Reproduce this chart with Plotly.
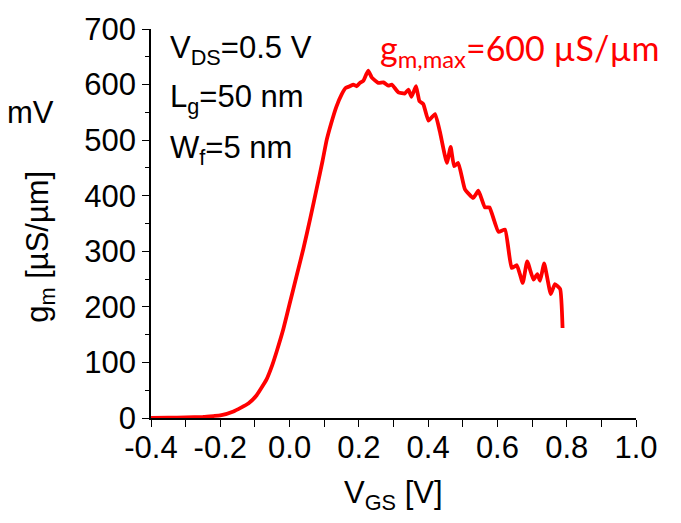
import plotly.graph_objects as go

# Transconductance g_m versus gate voltage V_GS
vgs = [-0.40, -0.35, -0.30, -0.25, -0.22, -0.200, -0.162, -0.119, -0.095, -0.066,
       -0.050, -0.037, -0.018, 0.000, 0.020, 0.040, 0.060, 0.080, 0.095, 0.107,
       0.120, 0.135, 0.150, 0.162, 0.174, 0.184, 0.194, 0.203, 0.213, 0.227,
       0.237, 0.256, 0.271, 0.285, 0.295, 0.314, 0.333, 0.343, 0.352, 0.365,
       0.375, 0.386, 0.401, 0.420, 0.434, 0.454, 0.465, 0.475, 0.487, 0.506,
       0.530, 0.545, 0.564, 0.577, 0.603, 0.622, 0.641, 0.656, 0.673, 0.686,
       0.704, 0.715, 0.723, 0.735, 0.754, 0.766, 0.781, 0.788]
gm = [0.3, 0.5, 1.0, 2.0, 3.5, 4.6, 11.7, 26, 41, 70,
      95, 120, 160, 205, 255, 305, 360, 418, 462, 500,
      530, 560, 582, 594, 597, 600, 597, 603, 607, 625,
      613, 603, 604, 598, 600, 586, 584, 591, 578, 597,
      570, 565, 535, 547, 515, 459, 488, 453, 459, 412,
      396, 409, 379, 379, 335, 339, 270, 275, 243, 282,
      249, 259, 247, 278, 223, 241, 232, 162]

x_ticks = [-0.4, -0.2, 0.0, 0.2, 0.4, 0.6, 0.8, 1.0]
y_ticks = [0, 100, 200, 300, 400, 500, 600, 700]

FONT = "Liberation Sans, Arial, sans-serif"
RED = "#ff0000"

fig = go.Figure()
fig.add_trace(go.Scatter(x=vgs, y=gm, mode="lines",
                         line=dict(color=RED, width=3.8, shape="spline", smoothing=0.4),
                         showlegend=False))

axis_common = dict(showline=True, linecolor="black", linewidth=1.5,
                   ticks="outside", ticklen=7, tickwidth=1.3, tickcolor="black",
                   showgrid=False, zeroline=False, mirror=False,
                   tickfont=dict(family=FONT, size=31, color="black"))

fig.update_xaxes(range=[-0.4, 1.0], tickvals=x_ticks,
                 ticktext=[f"{v:.1f}" for v in x_ticks],
                 ticklabelstandoff=-6,
                 minor=dict(dtick=0.1, tick0=-0.4, ticks="outside", ticklen=7,
                            tickwidth=1.3, tickcolor="black"),
                 **axis_common)
fig.update_yaxes(range=[0, 700], tickvals=y_ticks,
                 minor=dict(dtick=50, tick0=0, ticks="outside", ticklen=4,
                            tickwidth=1.3, tickcolor="black"),
                 **axis_common)

black = dict(family=FONT, size=31, color="black")
notes = [
    dict(text="V<sub>DS</sub>=0.5 V", x=0.035, y=0.947, xanchor="left", yanchor="middle", font=black),
    dict(text="L<sub>g</sub>=50 nm", x=0.035, y=0.819, xanchor="left", yanchor="middle", font=black),
    dict(text="W<sub>f</sub>=5 nm", x=0.035, y=0.690, xanchor="left", yanchor="middle", font=black),
    dict(text="g<sub>m,max</sub>=600 µS/µm", x=0.468, y=0.947, xanchor="left", yanchor="middle",
         font=dict(family="Lato, sans-serif", size=34, color=RED)),
    dict(text="mV", x=-0.301, y=0.786, xanchor="left", yanchor="middle", font=black),
    dict(text="g<sub>m</sub> [µS/µm]", x=-0.229, y=0.44, xanchor="center", yanchor="middle",
         textangle=-90, font=black),
    dict(text="V<sub>GS</sub> [V]", x=0.5, y=-0.197, xanchor="center", yanchor="middle", font=black),
]
for n in notes:
    fig.add_annotation(xref="paper", yref="paper", showarrow=False, **n)

fig.update_layout(width=681, height=523, plot_bgcolor="white", paper_bgcolor="white",
                  margin=dict(l=151, r=45, t=22, b=105))

fig.write_html("out.html")
